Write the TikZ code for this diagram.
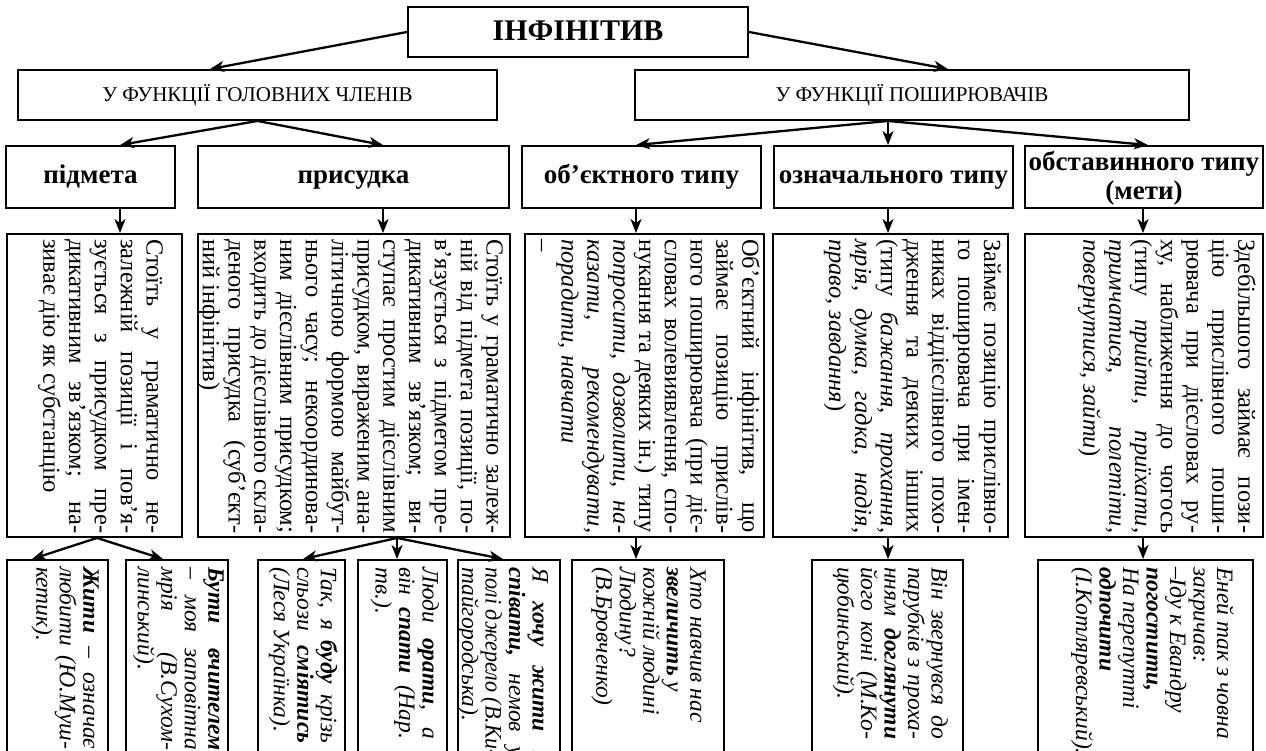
\documentclass[tikz,border=0pt]{standalone}
\usepackage{graphicx}
\usepackage{fontspec}
\setmainfont{Liberation Serif}
\usetikzlibrary{arrows.meta,fit}
\lineskiplimit=-100pt
\newlength\colw
% plain interword spaces (stretchable) inside the text nodes
\newcommand\plainspaces{\spaceskip=0pt\xspaceskip=0pt\relax}
% one justified line of width \colw; squeezed a little if it is too long
\newcommand\jl[1]{\sbox0{\plainspaces#1}\ifdim\wd0>\colw
  \leavevmode\resizebox{\colw}{\height}{\plainspaces#1}\else
  \leavevmode\hbox to\colw{\plainspaces#1}\fi\\}
% framed box between two corners
\newcommand\boxnode[5]{%
  \path (#2,#3) coordinate (#1-nw) (#4,#5) coordinate (#1-se);
  \node[frame,fit=(#1-nw)(#1-se)] (#1) {};}
\begin{document}
\begin{tikzpicture}[x=1pt,y=-1pt,
  frame/.style={draw,line width=1.9pt,inner sep=0pt},
  conn/.style={line width=2.3pt,-{Stealth[length=14pt,width=11pt,inset=4pt]}},
  vtext/.style={rotate=-90,anchor=north west,inner sep=0pt,align=left,
    font=\fontsize{24.5}{25.8}\selectfont},
  vexample/.style={rotate=-90,anchor=north west,inner sep=0pt,align=left,
    font=\fontsize{23.5}{23.5}\selectfont\itshape},
  ttl/.style={inner sep=0pt,text height=20pt,text depth=0pt,font=\fontsize{30}{34}\selectfont\bfseries},
  grp/.style={inner sep=0pt,text height=14pt,text depth=0pt,font=\fontsize{21}{24}\selectfont},
  kind/.style={inner sep=0pt,text height=12.5pt,text depth=0pt,font=\fontsize{27}{28}\selectfont\bfseries},
  kind2/.style={inner sep=0pt,align=center,font=\fontsize{27}{29}\selectfont\bfseries},
]
\useasboundingbox (0,0) rectangle (1266,751);
\clip (0,0) rectangle (1266,751);

% ---- top levels
\boxnode{T}{408}{7}{748}{57}
\node[ttl] (Tt) at ([yshift=1pt]T.center) {ІНФІНІТИВ};
\boxnode{L2}{18}{70}{497}{120}
\node[grp] (L2t) at (L2) {У ФУНКЦІЇ ГОЛОВНИХ ЧЛЕНІВ};
\boxnode{R2}{635}{70}{1189}{120}
\node[grp] (R2t) at (R2) {У ФУНКЦІЇ ПОШИРЮВАЧІВ};

\boxnode{A3}{6}{146}{175}{208}
\node[kind] (A3t) at (A3) {підмета};
\boxnode{B3}{198}{146}{509}{208}
\node[kind] (B3t) at (B3) {присудка};
\boxnode{C3}{522}{146}{761}{208}
\node[kind] (C3t) at (C3) {об’єктного типу};
\boxnode{D3}{774}{146}{1013}{208}
\node[kind] (D3t) at (D3) {означального типу};
\boxnode{E3}{1025}{146}{1263}{208}
\node[kind2] (E3t) at ([yshift=-1pt]E3.center) {обставинного типу\\(мети)};

% ---- description boxes
\boxnode{A4}{7}{234}{182}{537}
\boxnode{B4}{198}{234}{510}{537}
\boxnode{C4}{525}{234}{764}{537}
\boxnode{D4}{773}{234}{1008}{537}
\boxnode{E4}{1025}{234}{1263}{537}

\node[vtext,text width=294pt] (A4t) at (163,239) {\colw=294pt\plainspaces
\jl{Стоїть у граматично не-}
\jl{залежній позиції і пов’я-}
\jl{зується з присудком пре-}
\jl{дикативним зв’язком; на-}
зиває дію як субстанцію};

\node[vtext,text width=294pt] (B4t) at (503,239) {\colw=294pt\plainspaces
\jl{Стоїть у граматично залеж-}
\jl{ній від підмета позиції, по-}
\jl{в’язується з підметом пре-}
\jl{дикативним зв’язком; ви-}
\jl{ступає простим дієслівним}
\jl{присудком, вираженим ана-}
\jl{літичною формою майбут-}
\jl{нього часу; некоординова-}
\jl{ним дієслівним присудком;}
\jl{входить до дієслівного скла-}
\jl{деного присудка (суб’єкт-}
ний інфінітив)};

\node[vtext,text width=294pt] (C4t) at (760,239) {\colw=294pt\plainspaces
\jl{Об’єктний інфінітив, що}
\jl{займає позицію прислів-}
\jl{ного поширювача (при діє-}
\jl{словах волевиявлення, спо-}
\jl{нукання та деяких ін.) типу}
\jl{\textit{попросити, дозволити, на-}}
\jl{\textit{казати, рекомендувати,}}
\textit{порадити, навчати}\\
–};

\node[vtext,text width=294pt] (D4t) at (1001,239) {\colw=294pt\plainspaces
\jl{Займає позицію прислівно-}
\jl{го поширювача при імен-}
\jl{никах віддієслівного похо-}
\jl{дження та деяких інших}
\jl{(типу \textit{бажання, прохання,}}
\jl{\textit{мрія, думка, гадка, надія,}}
\textit{право, завдання})};

\node[vtext,text width=294pt] (E4t) at (1256,239) {\colw=294pt\plainspaces
\jl{Здебільшого займає пози-}
\jl{цію прислівного поши-}
\jl{рювача при дієсловах ру-}
\jl{ху, наближення до чогось}
\jl{(типу \textit{прийти, приїхати,}}
\jl{\textit{примчатися, полетіти,}}
\textit{повернутися, зайти})};

% ---- example boxes (run past the lower edge)
\boxnode{A5a}{7}{560}{108}{800}
\boxnode{A5b}{126}{560}{228}{800}
\boxnode{B5a}{258}{560}{345}{800}
\boxnode{B5b}{358}{560}{447}{800}
\boxnode{B5c}{458}{560}{560}{800}
\boxnode{C5}{572}{560}{724}{800}
\boxnode{D5}{812}{560}{963}{800}
\boxnode{E5}{1038}{560}{1253}{800}

\node[vexample,text width=182pt] (A5at) at (99,567) {\colw=182pt\plainspaces
\jl{\textbf{Жити} – означає}
\jl{любити (Ю.Муш-}
\mbox{кетик).}};
\node[vexample,text width=183pt] (A5bt) at (224,567) {\colw=183pt\plainspaces
\jl{\textbf{Бути вчителем}}
\jl{– моя заповітна}
\jl{мрія (В.Сухом-}
\mbox{линський).}};
\node[vexample,text width=176pt] (B5at) at (338,567) {\colw=176pt\plainspaces
\jl{Так, я \textbf{буду} крізь}
\jl{сльози \textbf{сміятись}}
\mbox{(Леся Українка).}};
\node[vexample,text width=172pt] (B5bt) at (439,567) {\colw=172pt\plainspaces
\jl{Люди \textbf{орати}, а}
\jl{він \textbf{спати} (Нар.}
\mbox{тв.).}};
\node[vexample,text width=190pt] (B5ct) at (549,567) {\colw=190pt\plainspaces
\jl{Я \textbf{хочу жити і}}
\jl{\textbf{співати,} немов у}
\jl{полі джерело (В.Ки-}
\mbox{тайгородська).}};
\node[vexample,text width=172pt] (C5t) at (706,567) {\plainspaces
\mbox{Хто навчив нас}\\
\mbox{\textbf{звеличить} у}\\
\mbox{кожній людині}\\
\mbox{Людину?}\\
\mbox{(В.Бровченко)}};
\node[vexample,text width=172pt] (D5t) at (948,567) {\colw=172pt\plainspaces
\jl{Він звернувся до}
\jl{парубків з проха-}
\jl{нням \textbf{доглянути}}
\jl{його коні (М.Ко-}
\mbox{цюбинський).}};
\node[vexample,text width=190pt] (E5t) at (1234,567) {\plainspaces
\mbox{Еней так з човна}\\
\mbox{закричав:}\\
\mbox{–Іду к Евандру}\\
\mbox{\textbf{погостити,}}\\
\mbox{На перепутті}\\
\mbox{\textbf{одпочити}}\\
\mbox{(І.Котляревський).}};

% ---- connector columns
\coordinate (xa) at (120,0);
\coordinate (xb) at (383,0);
\coordinate (xc) at (636,0);
\coordinate (xd) at (888,0);
\coordinate (xe) at (1143,0);
\coordinate (xe3) at (1148,0);
\coordinate (fa) at (97,0);
\coordinate (fb) at (397,0);
\coordinate (ta) at (210,0);
\coordinate (tb) at (948,0);
\coordinate (pa1) at (32,0);
\coordinate (pa2) at (163,0);
\coordinate (pb1) at (303,0);
\coordinate (pb3) at (503,0);

\draw[conn] (T.west) -- (L2.north -| ta);
\draw[conn] (T.east) -- (R2.north -| tb);

\draw[conn] (L2.south) -- (A3.north -| xa);
\draw[conn] (L2.south) -- (B3.north -| xb);
\draw[conn] (R2.south -| xd) -- (C3.north -| xc);
\draw[conn] (R2.south -| xd) -- (D3.north -| xd);
\draw[conn] (R2.south -| xd) -- (E3.north -| xe3);

\draw[conn] (A3.south -| xa) -- (A4.north -| xa);
\draw[conn] (B3.south -| xb) -- (B4.north -| xb);
\draw[conn] (C3.south -| xc) -- (C4.north -| xc);
\draw[conn] (D3.south -| xd) -- (D4.north -| xd);
\draw[conn] (E3.south -| xe) -- (E4.north -| xe);

\draw[conn] (A4.south -| fa) -- (A5a.north -| pa1);
\draw[conn] (A4.south -| fa) -- (A5b.north -| pa2);
\draw[conn] (B4.south -| fb) -- (B5a.north -| pb1);
\draw[conn] (B4.south -| fb) -- (B5b.north -| fb);
\draw[conn] (B4.south -| fb) -- (B5c.north -| pb3);
\draw[conn] (C4.south -| xc) -- (C5.north -| xc);
\draw[conn] (D4.south -| xd) -- (D5.north -| xd);
\draw[conn] (E4.south -| xe) -- (E5.north -| xe);
\end{tikzpicture}
\end{document}
